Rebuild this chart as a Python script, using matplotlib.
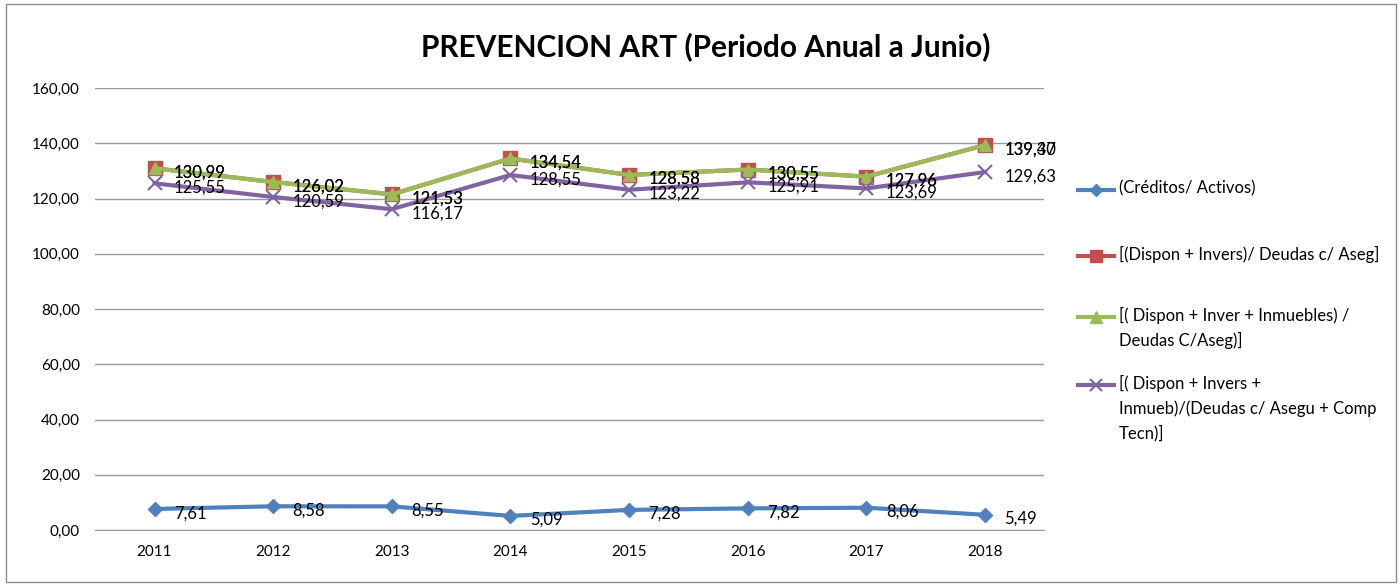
import matplotlib.pyplot as plt
from matplotlib.lines import Line2D
from matplotlib.patches import Rectangle
from matplotlib.ticker import FuncFormatter

plt.rcParams["font.family"] = ["Lato", "DejaVu Sans"]

years = ["2011", "2012", "2013", "2014", "2015", "2016", "2017", "2018"]
creditos = [7.61, 8.58, 8.55, 5.09, 7.28, 7.82, 8.06, 5.49]
dispon_invers = [130.99, 126.02, 121.53, 134.54, 128.58, 130.55, 127.96, 139.40]
dispon_inmuebles = [130.99, 126.02, 121.53, 134.54, 128.58, 130.55, 127.96, 139.37]
dispon_comp_tecn = [125.55, 120.59, 116.17, 128.55, 123.22, 125.91, 123.69, 129.63]

series = [
    ("(Créditos/ Activos)", creditos, "#4F81BD", "D", 7),
    ("[(Dispon + Invers)/ Deudas c/ Aseg]", dispon_invers, "#C0504D", "s", 10),
    ("[( Dispon + Inver + Inmuebles) /\nDeudas C/Aseg)]", dispon_inmuebles, "#9BBB59", "^", 9),
    ("[( Dispon + Invers +\nInmueb)/(Deudas c/ Asegu + Comp\nTecn)]", dispon_comp_tecn, "#8064A2", "x", 10),
]

fig = plt.figure(figsize=(14, 5.84), dpi=100)
ax = fig.add_axes([0.068, 0.0925, 0.678, 0.7565])

x = list(range(len(years)))
for name, vals, color, marker, ms in series:
    ax.plot(x, vals, color=color, lw=3, marker=marker, ms=ms,
            mew=1.5 if marker == "x" else 1, zorder=3)
    for xi, v in zip(x, vals):
        ax.annotate(f"{v:.2f}".replace(".", ","), (xi, v), xytext=(14, -3),
                    textcoords="offset points", ha="left", va="center",
                    fontsize=12, color="black", zorder=4)

ax.set_xlim(-0.5, len(years) - 0.5)
ax.set_ylim(0, 160)
ax.set_yticks(range(0, 161, 20))
ax.yaxis.set_major_formatter(FuncFormatter(lambda v, p: f"{v:.2f}".replace(".", ",")))
ax.set_xticks(x)
ax.set_xticklabels(years)
ax.tick_params(axis="both", length=0, labelsize=11, pad=11)
ax.grid(axis="y", color="#9A9A9A", lw=1)
ax.set_axisbelow(True)
for s in ["left", "right", "top"]:
    ax.spines[s].set_visible(False)
ax.spines["bottom"].set_color("#9A9A9A")

fig.text(0.504, 0.92, "PREVENCION ART (Periodo Anual a Junio)", ha="center",
         va="center", fontsize=21.5, fontweight="bold")

# legend drawn by hand so the markers sit beside the first text line
leg_y = [190, 256, 317, 385]
for (name, vals, color, marker, ms), py in zip(series, leg_y):
    yf = 1 - py / 584
    fig.add_artist(Line2D([1078 / 1400, 1114 / 1400], [yf, yf], color=color, lw=3,
                          transform=fig.transFigure))
    fig.add_artist(Line2D([1096 / 1400], [yf], color=color, marker=marker, ms=ms - 1,
                          mew=1.5 if marker == "x" else 1, transform=fig.transFigure))
    fig.text(1119 / 1400, yf + 10 / 584, name, ha="left", va="top", fontsize=12,
             linespacing=1.6, transform=fig.transFigure)

fig.add_artist(Rectangle((0.004, 0.004), 0.993, 0.99, transform=fig.transFigure,
                         fill=False, edgecolor="#8C8C8C", lw=1))

fig.savefig("out.png", dpi=100)
